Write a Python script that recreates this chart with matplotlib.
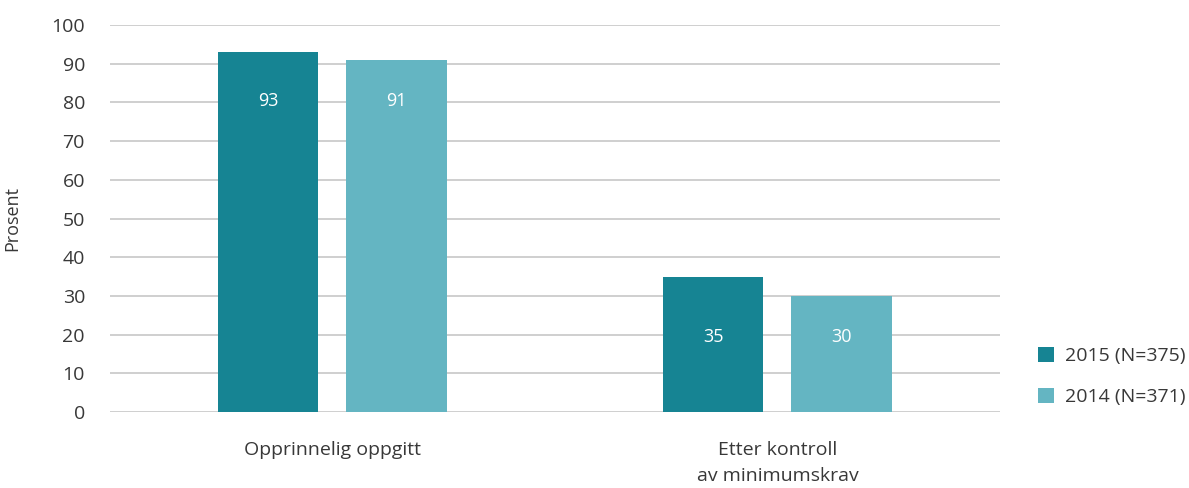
import numpy as np
import matplotlib
matplotlib.use("Agg")
import matplotlib.pyplot as plt

plt.rcParams["font.family"] = ["Open Sans", "DejaVu Sans"]
plt.rcParams["font.weight"] = 500

categories = ["Opprinnelig oppgitt", "Etter kontroll\nav minimumskrav"]
series_names = ["2015 (N=375)", "2014 (N=371)"]
values_2015 = [93, 35]
values_2014 = [91, 30]
colors = ["#168493", "#64b5c2"]
text_color = "#383838"

fig = plt.figure(figsize=(11.89, 4.88), dpi=100)
ax = fig.add_axes([0.0925, 0.1557, 0.7485, 0.7931])

x = np.arange(len(categories))
width = 0.225
offset = 0.144

bars_2015 = ax.bar(x - offset, values_2015, width, color=colors[0], label=series_names[0], zorder=3)
bars_2014 = ax.bar(x + offset, values_2014, width, color=colors[1], label=series_names[1], zorder=3)

# value labels sit a bit below the top of the shorter bar in each group
for i in range(len(categories)):
    ly = min(values_2015[i], values_2014[i]) - 10.6
    ax.text(x[i] - offset, ly, str(values_2015[i]), color="white", ha="center", va="center", fontsize=13, zorder=4)
    ax.text(x[i] + offset, ly, str(values_2014[i]), color="white", ha="center", va="center", fontsize=13, zorder=4)

ax.set_xlim(-0.5, 1.5)
ax.set_ylim(0, 100)
ax.set_yticks(np.arange(0, 101, 10))
ax.set_xticks(x)
ax.set_xticklabels(categories, fontsize=14, color=text_color, linespacing=1.55)
ax.tick_params(axis="x", length=0, pad=21)
ax.tick_params(axis="y", length=0, pad=18, labelsize=14, labelcolor=text_color)

ax.yaxis.grid(True, color="#cccccc", linewidth=1.3, zorder=0)
ax.set_axisbelow(True)
for s in ax.spines.values():
    s.set_visible(False)

ax.set_ylabel("Prosent", fontsize=13, color=text_color)
ax.yaxis.set_label_coords(-0.1, 0.5)

fig.legend(handles=[bars_2015, bars_2014], labels=series_names, loc="upper left",
           bbox_to_anchor=(0.858, 0.325), frameon=False, fontsize=14,
           handlelength=0.85, handleheight=0.85, handletextpad=0.55,
           labelspacing=1.15, labelcolor=text_color)

fig.savefig("out.png", dpi=100)
